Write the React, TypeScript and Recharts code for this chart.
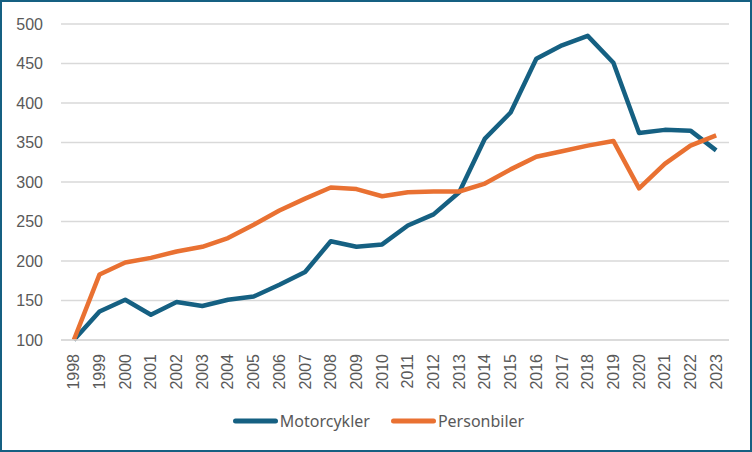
import React from "react";
import { LineChart, Line, XAxis, YAxis, CartesianGrid, Legend } from "recharts";

const years = [
  "1998", "1999", "2000", "2001", "2002", "2003", "2004", "2005", "2006",
  "2007", "2008", "2009", "2010", "2011", "2012", "2013", "2014", "2015",
  "2016", "2017", "2018", "2019", "2020", "2021", "2022", "2023",
];
const motorcykler = [
  100, 136, 151, 132, 148, 143, 151, 155, 170, 186, 225, 218, 221, 245, 259,
  287, 355, 388, 456, 473, 485, 451, 362, 366, 365, 340,
];
const personbiler = [
  100, 183, 198, 204, 212, 218, 229, 246, 264, 279, 293, 291, 282, 287, 288,
  288, 298, 316, 332, 339, 346, 352, 292, 323, 346, 359,
];
const yTicks = [100, 150, 200, 250, 300, 350, 400, 450, 500];

const data = years.map((y, i) => ({
  year: y,
  Motorcykler: motorcykler[i],
  Personbiler: personbiler[i],
}));

const BLUE = "#156082";
const ORANGE = "#E97132";
const TEXT = "#595959";
const GRID = "#D9D9D9";

const XTick = (props: any) => {
  const { x, y, payload } = props;
  const ty = y + 12;
  return (
    <text
      x={x}
      y={ty}
      transform={`rotate(-90 ${x} ${ty})`}
      textAnchor="end"
      dominantBaseline="central"
      fill={TEXT}
      fontSize={16}
      fontFamily="Liberation Sans, Arial, sans-serif"
    >
      {payload.value}
    </text>
  );
};

const LegendContent = (props: any) => {
  const { payload } = props;
  return (
    <div
      style={{
        display: "flex",
        justifyContent: "center",
        alignItems: "center",
        width: 752,
        paddingLeft: 5,
        boxSizing: "border-box",
      }}
    >
      {(payload || []).map((entry: any, i: number) => (
        <div
          key={entry.value}
          style={{
            display: "flex",
            alignItems: "center",
            marginLeft: i === 0 ? 0 : 21,
          }}
        >
          <svg width={45} height={10} style={{ display: "block" }}>
            <line
              x1={2.5}
              y1={5}
              x2={42.5}
              y2={5}
              stroke={entry.color}
              strokeWidth={5}
              strokeLinecap="round"
            />
          </svg>
          <span
            style={{
              marginLeft: 2,
              color: TEXT,
              fontSize: 16,
              fontFamily: "Noto Sans, Open Sans, sans-serif",
              lineHeight: "20px",
            }}
          >
            {entry.value}
          </span>
        </div>
      ))}
    </div>
  );
};

export default function App() {
  return (
    <div
      style={{
        position: "absolute",
        left: 0,
        top: 0,
        width: 752,
        height: 452,
        background: "#ffffff",
      }}
    >
      <LineChart
        width={752}
        height={452}
        data={data}
        margin={{ top: 24, right: 23, bottom: 50, left: 0 }}
      >
        <CartesianGrid vertical={false} stroke={GRID} strokeWidth={1.5} />
        <XAxis
          dataKey="year"
          interval={0}
          height={62}
          padding={{ left: 12.84, right: 12.84 }}
          axisLine={{ stroke: GRID, strokeWidth: 1.5 }}
          tickLine={false}
          tickSize={0}
          tick={<XTick />}
        />
        <YAxis
          domain={[100, 500]}
          ticks={yTicks}
          width={61}
          axisLine={false}
          tickLine={false}
          tickSize={0}
          tickMargin={18}
          tick={{
            fill: TEXT,
            fontSize: 16,
            fontFamily: "Liberation Sans, Arial, sans-serif",
          }}
        />
        <Legend
          layout="horizontal"
          verticalAlign="middle"
          align="center"
          content={<LegendContent />}
          wrapperStyle={{ top: 411, left: 0, width: 752 }}
        />
        <Line
          type="linear"
          dataKey="Motorcykler"
          stroke={BLUE}
          strokeWidth={4.5}
          dot={false}
          activeDot={false}
          strokeLinejoin="round"
          isAnimationActive={false}
        />
        <Line
          type="linear"
          dataKey="Personbiler"
          stroke={ORANGE}
          strokeWidth={4.5}
          dot={false}
          activeDot={false}
          strokeLinejoin="round"
          isAnimationActive={false}
        />
      </LineChart>
      <div
        style={{
          position: "absolute",
          left: 0,
          top: 0,
          width: 752,
          height: 452,
          border: `2px solid ${BLUE}`,
          boxSizing: "border-box",
          pointerEvents: "none",
        }}
      />
    </div>
  );
}
